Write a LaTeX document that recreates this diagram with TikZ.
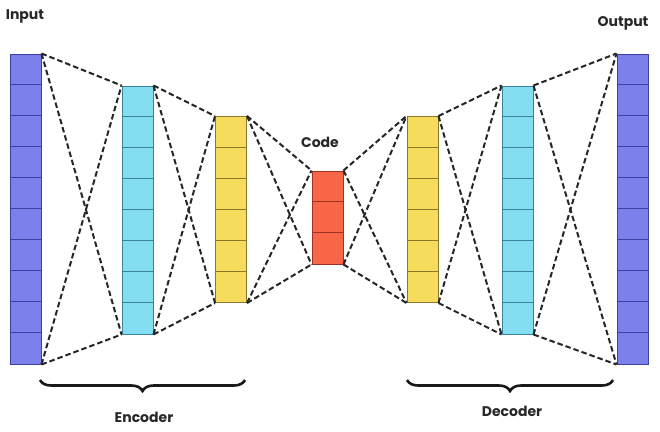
\documentclass[tikz,border=0pt]{standalone}
\usepackage{fontspec}
\setmainfont{Poppins}
\usetikzlibrary{decorations.pathreplacing}
\definecolor{inblue}{RGB}{124,128,234}
\definecolor{inblueD}{RGB}{60,64,160}
\definecolor{cyanF}{RGB}{130,222,240}
\definecolor{cyanD}{RGB}{60,130,150}
\definecolor{yelF}{RGB}{245,220,92}
\definecolor{yelD}{RGB}{140,120,45}
\definecolor{redF}{RGB}{248,102,72}
\definecolor{redD}{RGB}{160,50,35}
\definecolor{txt}{RGB}{40,40,40}
\tikzset{
  layer/.style={rectangle, inner sep=0pt, minimum width=31pt, line width=1pt},
  conn/.style={line width=2pt, dash pattern=on 5.5pt off 3pt, black!85},
  lab/.style={font=\fontsize{14}{16}\selectfont\bfseries, text=txt},
  brc/.style={decorate, decoration={brace, mirror, amplitude=11pt}, line width=2.6pt, black!90}
}
\newcommand{\cells}[4]{% name, n, colour, celh
  \foreach \k in {1,...,#2}{
    \draw[#3, line width=1pt] ([yshift=-\k*#4pt]#1.north west) -- ([yshift=-\k*#4pt]#1.north east);
  }
}
\begin{document}
\begin{tikzpicture}[x=1pt,y=-1pt]
\useasboundingbox (0,0) rectangle (660,431);
\fill[white] (0,0) rectangle (660,431);
% layers
\node[layer, minimum height=310pt, fill=inblue, draw=inblueD] (in) at (25.5,209) {};
\node[layer, minimum height=248pt, fill=cyanF, draw=cyanD] (e1) at (137.5,210) {};
\node[layer, minimum height=186pt, fill=yelF, draw=yelD] (e2) at (231,209.5) {};
\node[layer, minimum height=93pt, fill=redF, draw=redD] (code) at (327.5,217.5) {};
\node[layer, minimum height=186pt, fill=yelF, draw=yelD] (d1) at (422.5,209.5) {};
\node[layer, minimum height=248pt, fill=cyanF, draw=cyanD] (d2) at (517.5,210) {};
\node[layer, minimum height=310pt, fill=inblue, draw=inblueD] (out) at (632.5,209) {};
% cell dividers
\cells{in}{9}{inblueD}{31}
\cells{e1}{7}{cyanD}{31}
\cells{e2}{5}{yelD}{31}
\cells{code}{2}{redD}{31}
\cells{d1}{5}{yelD}{31}
\cells{d2}{7}{cyanD}{31}
\cells{out}{9}{inblueD}{31}
% connectors
\foreach \a/\b in {in/e1, e1/e2, e2/code, code/d1, d1/d2, d2/out}{
  \draw[conn] (\a.north east) -- (\b.north west);
  \draw[conn] (\a.north east) -- (\b.south west);
  \draw[conn] (\a.south east) -- (\b.north west);
  \draw[conn] (\a.south east) -- (\b.south west);
}
% labels
\node[lab] (tin) at (25,16) {Input};
\node[lab] (tout) at (623,23) {Output};
\node[lab] (tcode) at (320,142) {Code};
% braces
\coordinate (eb1) at (40,380);
\coordinate (eb2) at (245,380);
\coordinate (db1) at (407,380);
\coordinate (db2) at (613,380);
\draw[brc] (eb1) -- (eb2);
\draw[brc] (db1) -- (db2);
\node[lab] (tenc) at (144,417) {Encoder};
\node[lab] (tdec) at (512,411) {Decoder};
\end{tikzpicture}
\end{document}
